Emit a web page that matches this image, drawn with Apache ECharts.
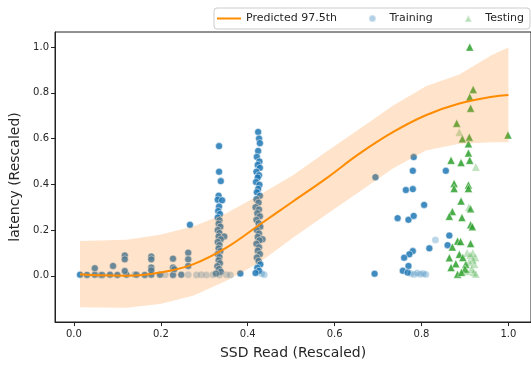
<!DOCTYPE html>
<html>
<head>
<meta charset="utf-8">
<script src="https://cdn.jsdelivr.net/npm/echarts@6/dist/echarts.min.js"></script>
<style>
  html, body { margin: 0; padding: 0; background: #fff; }
  #chart { width: 531px; height: 365px; }
</style>
</head>
<body>
<div id="chart"></div>
<script>
// predicted quantile curve and its band
var curveX = [0.014, 0.06, 0.121, 0.198, 0.274, 0.351, 0.427, 0.504, 0.58, 0.657, 0.734, 0.81, 0.887, 0.963, 1.0]
var curveY = [0.007, 0.002, 0.0, 0.014, 0.05, 0.123, 0.223, 0.325, 0.425, 0.534, 0.628, 0.702, 0.753, 0.783, 0.79]
var bandLow = [-0.137, -0.139, -0.14, -0.123, -0.087, -0.022, 0.058, 0.166, 0.267, 0.368, 0.469, 0.548, 0.577, 0.584, 0.584]
var bandHigh = [0.152, 0.154, 0.158, 0.18, 0.216, 0.274, 0.353, 0.44, 0.541, 0.642, 0.743, 0.829, 0.88, 0.967, 0.998]

var tickValues = [0, 0.2, 0.4, 0.6, 0.8, 1.0]

// training points, the dense / repeated ones
var trainSolid = [
  [0.014, 0.005], [0.03, 0.004], [0.048, 0.005], [0.065, 0.004], [0.083, 0.005], [0.1, 0.004],
  [0.121, 0.005], [0.144, 0.005], [0.163, 0.004], [0.178, 0.005], [0.198, 0.005], [0.228, 0.004], [0.247, 0.005],
  [0.048, 0.033], [0.09, 0.043], [0.117, 0.089], [0.117, 0.072], [0.117, 0.021],
  [0.178, 0.084], [0.178, 0.072], [0.178, 0.036], [0.178, 0.024], [0.228, 0.075], [0.228, 0.036], [0.231, 0.029],
  [0.263, 0.101], [0.263, 0.072], [0.263, 0.043], [0.267, 0.223],
  [0.334, 0.567], [0.334, 0.455], [0.338, 0.414], [0.333, 0.35], [0.331, 0.333], [0.341, 0.33], [0.334, 0.303],
  [0.332, 0.283], [0.336, 0.27], [0.331, 0.255], [0.335, 0.243], [0.333, 0.228], [0.337, 0.215], [0.331, 0.2],
  [0.335, 0.187], [0.346, 0.172], [0.333, 0.172], [0.338, 0.16], [0.331, 0.148], [0.335, 0.135], [0.333, 0.12],
  [0.337, 0.108], [0.331, 0.095], [0.335, 0.082], [0.333, 0.068], [0.336, 0.055], [0.33, 0.042], [0.334, 0.03],
  [0.338, 0.018], [0.327, 0.01], [0.383, 0.01],
  [0.424, 0.629], [0.426, 0.6], [0.428, 0.58], [0.424, 0.546], [0.421, 0.52], [0.427, 0.5], [0.423, 0.485],
  [0.428, 0.472], [0.42, 0.455], [0.426, 0.44], [0.423, 0.43], [0.419, 0.41], [0.427, 0.398], [0.424, 0.38],
  [0.421, 0.365], [0.428, 0.35], [0.42, 0.335], [0.425, 0.32], [0.418, 0.3], [0.426, 0.29], [0.422, 0.274],
  [0.428, 0.26], [0.42, 0.245], [0.425, 0.23], [0.429, 0.215], [0.421, 0.2], [0.426, 0.185], [0.423, 0.17],
  [0.434, 0.16], [0.427, 0.155], [0.42, 0.14], [0.426, 0.125], [0.423, 0.11], [0.428, 0.095], [0.421, 0.08],
  [0.425, 0.065], [0.429, 0.05], [0.422, 0.035], [0.426, 0.022], [0.418, 0.012],
  [0.694, 0.431], [0.692, 0.009], [0.782, 0.519], [0.78, 0.459], [0.764, 0.375], [0.78, 0.379], [0.806, 0.31],
  [0.745, 0.252], [0.77, 0.245], [0.782, 0.262], [0.818, 0.12], [0.78, 0.108], [0.772, 0.094], [0.76, 0.079],
  [0.77, 0.043], [0.757, 0.022], [0.768, 0.014], [0.856, 0.459], [0.864, 0.176], [0.86, 0.134]
]
// training points that show up faint (single points)
var trainFaint = [
  [0.06, 0.004], [0.14, 0.006], [0.21, 0.005], [0.263, 0.005], [0.282, 0.004], [0.293, 0.005], [0.305, 0.004],
  [0.32, 0.005], [0.335, 0.004], [0.351, 0.005], [0.36, 0.004], [0.432, 0.01], [0.438, 0.005],
  [0.832, 0.157], [0.775, 0.01], [0.783, 0.006], [0.79, 0.012], [0.797, 0.007], [0.804, 0.01], [0.81, 0.006]
]

var testSolid = [
  [0.911, 1.0], [0.919, 0.815], [0.911, 0.782], [0.913, 0.733], [0.881, 0.667], [0.894, 0.599], [0.91, 0.606],
  [0.908, 0.577], [0.999, 0.616], [0.908, 0.537], [0.868, 0.505], [0.891, 0.495], [0.911, 0.505],
  [0.875, 0.404], [0.875, 0.382], [0.908, 0.397], [0.908, 0.382], [0.891, 0.327], [0.871, 0.281], [0.864, 0.26],
  [0.893, 0.255], [0.913, 0.293], [0.913, 0.223], [0.917, 0.215], [0.883, 0.152], [0.89, 0.15], [0.913, 0.141],
  [0.871, 0.126], [0.864, 0.079], [0.887, 0.094], [0.879, 0.053], [0.868, 0.036], [0.883, 0.007], [0.902, 0.05],
  [0.895, 0.08], [0.9, 0.03], [0.892, 0.015]
]
var testFaint = [
  [0.887, 0.628], [0.925, 0.476], [0.909, 0.3], [0.905, 0.1], [0.912, 0.09], [0.918, 0.07], [0.922, 0.05],
  [0.91, 0.06], [0.915, 0.03], [0.92, 0.015], [0.925, 0.008], [0.905, 0.02], [0.918, 0.1], [0.924, 0.08]
]

var font = 'DejaVu Sans'
var textColor = '#262626'
var spine = '#222'

function pairs(xs, ys) {
  return xs.map(function (x, i) { return [x, ys[i]] })
}

// band outline: along the top, then back along the bottom
function renderBand(params, api) {
  var pts = []
  for (var i = 0; i < curveX.length; i++) {
    pts.push(api.coord([curveX[i], bandHigh[i]]))
  }
  for (var j = curveX.length - 1; j >= 0; j--) {
    pts.push(api.coord([curveX[j], bandLow[j]]))
  }
  return {
    type: 'polygon',
    shape: { points: pts },
    style: { fill: 'rgba(255,127,14,0.22)', stroke: null }
  }
}

var chart = echarts.init(document.getElementById('chart'))
chart.setOption({
  animation: false,
  backgroundColor: '#fff',
  textStyle: { fontFamily: font },
  grid: {
    left: 55,
    right: -1,
    top: 32,
    bottom: 40,
    show: true,
    borderColor: spine,
    borderWidth: 1,
    backgroundColor: 'transparent'
  },
  legend: {
    left: 214,
    top: 8,
    itemWidth: 24,
    itemHeight: 7,
    itemGap: 31,
    symbolKeepAspect: true,
    padding: [5, 6, 5, 3],
    backgroundColor: '#fff',
    borderColor: '#ccc',
    borderWidth: 1,
    borderRadius: 3,
    textStyle: { fontSize: 11, color: textColor, fontFamily: font },
    data: [
      { name: 'Predicted 97.5th', icon: 'path://M0,0 L24,0 L24,2 L0,2 Z' },
      { name: 'Training', icon: 'circle', itemStyle: { opacity: 0.35 } },
      { name: 'Testing', icon: 'path://M3,0 L6,6 L0,6 Z', itemStyle: { opacity: 0.35 } }
    ]
  },
  xAxis: {
    type: 'value',
    min: -0.0436,
    max: 1.052,
    name: 'SSD Read (Rescaled)',
    nameLocation: 'middle',
    nameGap: 24,
    nameTextStyle: { fontSize: 14, color: textColor, fontFamily: font },
    axisLine: { onZero: false, lineStyle: { color: spine, width: 1 } },
    axisTick: { customValues: tickValues, length: 4, lineStyle: { color: spine } },
    axisLabel: {
      customValues: tickValues,
      margin: 7,
      fontSize: 10,
      color: textColor,
      formatter: function (v) { return v.toFixed(1) }
    },
    splitLine: { show: false }
  },
  yAxis: {
    type: 'value',
    min: -0.202,
    max: 1.066,
    name: 'latency (Rescaled)',
    nameLocation: 'middle',
    nameGap: 32,
    nameTextStyle: { fontSize: 14, color: textColor, fontFamily: font },
    axisLine: { onZero: false, lineStyle: { color: spine, width: 1 } },
    axisTick: { customValues: tickValues, length: 4, lineStyle: { color: spine } },
    axisLabel: {
      customValues: tickValues,
      margin: 6,
      fontSize: 10,
      color: textColor,
      formatter: function (v) { return v.toFixed(1) }
    },
    splitLine: { show: false }
  },
  series: [
    {
      name: 'Training',
      type: 'scatter',
      z: 2,
      symbol: 'circle',
      symbolSize: 7,
      data: trainSolid,
      itemStyle: { color: '#1f77b4', opacity: 0.85, borderColor: '#fff', borderWidth: 0.6 }
    },
    {
      name: 'Training',
      type: 'scatter',
      z: 2,
      symbol: 'circle',
      symbolSize: 7,
      data: trainFaint,
      itemStyle: { color: '#1f77b4', opacity: 0.3, borderColor: '#fff', borderWidth: 0.6 }
    },
    {
      name: 'Testing',
      type: 'scatter',
      z: 2,
      symbol: 'triangle',
      symbolSize: 8,
      data: testSolid,
      itemStyle: { color: '#2ca02c', opacity: 0.85, borderColor: '#fff', borderWidth: 0.5 }
    },
    {
      name: 'Testing',
      type: 'scatter',
      z: 2,
      symbol: 'triangle',
      symbolSize: 8,
      data: testFaint,
      itemStyle: { color: '#2ca02c', opacity: 0.3, borderColor: '#fff', borderWidth: 0.5 }
    },
    {
      name: 'band',
      type: 'custom',
      z: 3,
      coordinateSystem: 'cartesian2d',
      renderItem: renderBand,
      data: [[curveX[0], bandLow[0]]],
      silent: true
    },
    {
      name: 'Predicted 97.5th',
      type: 'line',
      z: 4,
      smooth: 0.4,
      symbol: 'none',
      data: pairs(curveX, curveY),
      lineStyle: { color: '#ff8c00', width: 2 },
      itemStyle: { color: '#ff8c00' }
    }
  ]
})
</script>
</body>
</html>
